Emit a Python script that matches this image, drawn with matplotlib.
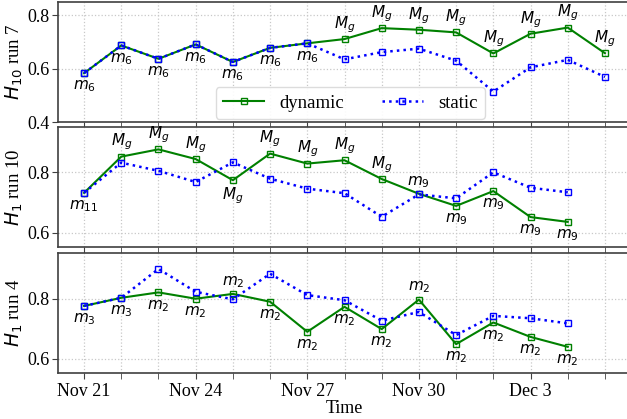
import matplotlib
matplotlib.use('Agg')
import matplotlib.pyplot as plt
import matplotlib.dates as mdates
from matplotlib.ticker import FuncFormatter
from datetime import datetime, timedelta

plt.rcParams['font.family'] = ['Liberation Serif', 'DejaVu Serif']
plt.rcParams['mathtext.fontset'] = 'dejavusans'
plt.rcParams['font.size'] = 13

# dates: Nov 21 .. Dec 5
dates = [datetime(2020, 11, 21) + timedelta(days=i) for i in range(15)]

# panel 1: H10 run 7
h10_dyn = [0.583, 0.687, 0.637, 0.691, 0.625, 0.678, 0.695, 0.711, 0.752, 0.746,
           0.736, 0.657, 0.731, 0.754, 0.658]
h10_sta = [0.583, 0.687, 0.637, 0.691, 0.625, 0.678, 0.695, 0.635, 0.662, 0.675,
           0.630, 0.514, 0.605, 0.633, 0.569]
h10_lab = ['m_6'] * 7 + ['M_g'] * 8

# panel 2: H1 run 10
h1r10_dyn = [0.732, 0.852, 0.876, 0.844, 0.774, 0.862, 0.829, 0.840, 0.778, 0.729,
             0.689, 0.738, 0.652, 0.636]
h1r10_sta = [0.732, 0.832, 0.805, 0.768, 0.833, 0.779, 0.746, 0.731, 0.653, 0.727,
             0.714, 0.800, 0.749, 0.734]
h1r10_lab = ['m_{11}'] + ['M_g'] * 8 + ['m_9'] * 5

# panel 3: H1 run 4
h1r4_dyn = [0.776, 0.803, 0.821, 0.800, 0.816, 0.790, 0.690, 0.773, 0.699, 0.797,
            0.649, 0.721, 0.673, 0.640]
h1r4_sta = [0.776, 0.803, 0.899, 0.823, 0.798, 0.883, 0.812, 0.795, 0.727, 0.756,
            0.679, 0.743, 0.735, 0.718]
h1r4_lab = ['m_3', 'm_3'] + ['m_2'] * 12

panels = [
    (h10_dyn, h10_sta, h10_lab, r'$H_{10}$ run 7', (0.4, 0.85), [0.4, 0.6, 0.8]),
    (h1r10_dyn, h1r10_sta, h1r10_lab, r'$H_1$ run 10', (0.553, 0.95), [0.6, 0.8]),
    (h1r4_dyn, h1r4_sta, h1r4_lab, r'$H_1$ run 4', (0.553, 0.952), [0.6, 0.8]),
]

fig = plt.figure(figsize=(6.27, 4.19), dpi=100)
left, width, height = 58 / 627, 573 / 627, 120 / 419
bottoms = [1 - 122 / 419, 1 - 247 / 419, 1 - 373 / 419]
axes = []
for i, b in enumerate(bottoms):
    ax = fig.add_axes([left, b, width, height], sharex=axes[0] if axes else None)
    axes.append(ax)

for ax, (dyn, sta, lab, ylabel, ylim, yticks) in zip(axes, panels):
    d = dates[:len(dyn)]
    ax.plot(d, dyn, color='green', ls='-', lw=1.5, marker='s', ms=4.5,
            mfc='none', mew=1, label='dynamic', zorder=3)
    ax.plot(d, sta, color='blue', ls=':', lw=1.8, marker='s', ms=4.5,
            mfc='none', mew=1, label='static', zorder=3)
    for x, yd, ys, t in zip(d, dyn, sta, lab):
        if yd > ys:
            ax.annotate(f'${t}$', (x, yd), xytext=(0, 3), textcoords='offset points',
                        ha='center', va='bottom', fontsize=11)
        else:
            ax.annotate(f'${t}$', (x, yd), xytext=(0, -4), textcoords='offset points',
                        ha='center', va='top', fontsize=11)
    ax.set_ylim(*ylim)
    ax.set_yticks(yticks)
    ax.set_ylabel(ylabel, fontsize=13.5, labelpad=2)
    ax.grid(True, which='both', ls=':', color='#c8c8c8', lw=0.9)
    ax.set_axisbelow(True)
    for s in ax.spines.values():
        s.set_color('0.25')
        s.set_linewidth(1.2)
    ax.tick_params(which='both', direction='out', length=4, color='0.25', labelsize=13)
    ax.tick_params(axis='y', pad=2)

ax = axes[0]
ax.xaxis.set_major_locator(mdates.DayLocator(bymonthday=[21, 24, 27, 30, 3]))
ax.xaxis.set_minor_locator(mdates.DayLocator())
ax.xaxis.set_major_formatter(FuncFormatter(
    lambda v, p: f"{mdates.num2date(v):%b} {mdates.num2date(v).day}"))
for a in axes[:2]:
    a.tick_params(labelbottom=False)
axes[2].set_xlabel('Time', fontsize=13, labelpad=0)

axes[0].legend(loc='lower center', bbox_to_anchor=(0.51, 0.0), ncol=2,
               fontsize=13.5, borderaxespad=0.15, handlelength=2.2,
               columnspacing=2.0, framealpha=0.9, edgecolor='0.85')

fig.savefig('out.png', dpi=100)
